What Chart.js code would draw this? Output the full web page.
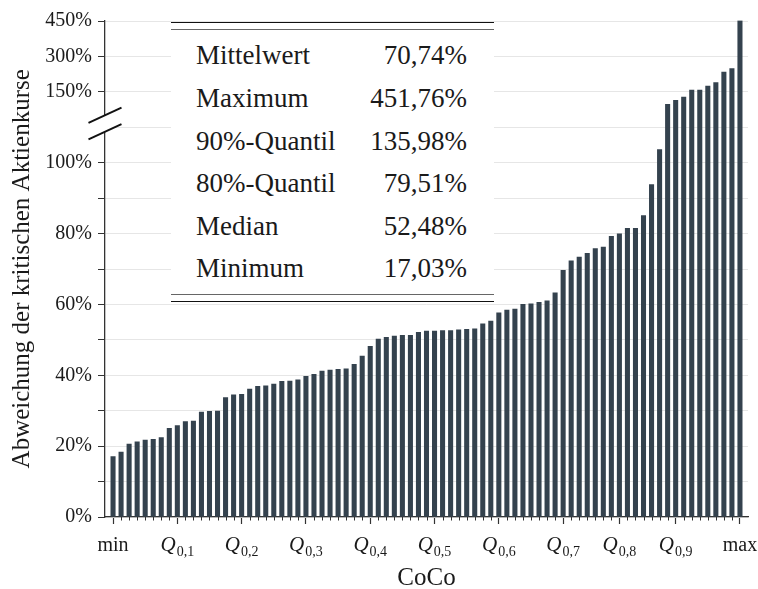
<!DOCTYPE html>
<html lang="de">
<head>
<meta charset="utf-8">
<title>Abweichung der kritischen Aktienkurse</title>
<script src="https://cdn.jsdelivr.net/npm/chart.js@4/dist/chart.umd.min.js"></script>
<style>
  html, body { margin: 0; padding: 0; background: #fff; }
  #wrap { position: relative; width: 758px; height: 589px; }
  #chart { position: absolute; left: 0; top: 0; }
  #stats {
    position: absolute; left: 171px; top: 21.5px; width: 323px; height: 282px;
    background: #fff; font-family: "Liberation Serif", serif; font-size: 27px; color: #1a1a1a;
  }
  #stats .rule { position: absolute; left: 0; right: 0; }
  #stats .row { position: absolute; left: 25px; right: 27px; height: 42.6px; line-height: 42.6px; white-space: nowrap; }
  #stats .row .v { position: absolute; right: 0; top: 0; }
</style>
</head>
<body>
<div id="wrap">
  <canvas id="chart" width="758" height="589"></canvas>
  <div id="stats"></div>
</div>
<script>
// Abweichung der kritischen Aktienkurse je CoCo, aufsteigend sortiert (in %)
const deviation = [
  17.03, 18.3, 20.6, 21.2, 21.7, 21.9, 22.4, 25.0, 25.8, 26.9,
  27.1, 29.6, 29.8, 29.9, 33.7, 34.5, 34.6, 36.1, 36.9, 37.0,
  37.5, 38.3, 38.4, 38.7, 39.7, 40.3, 41.2, 41.5, 41.7, 41.8,
  43.1, 45.4, 48.2, 50.2, 50.7, 51.1, 51.3, 51.3, 52.1, 52.48,
  52.5, 52.6, 52.6, 52.8, 53.0, 53.1, 54.5, 55.3, 57.6, 58.4,
  58.7, 60.0, 60.2, 60.6, 61.0, 63.3, 69.6, 72.3, 73.4, 74.4,
  75.8, 76.2, 79.2, 79.9, 81.5, 81.5, 85.1, 93.8, 103.7, 135.98,
  140.4, 144.0, 157.5, 157.5, 174.0, 189.0, 234.0, 249.0, 451.76
];

// Lage der Quantile auf der CoCo-Achse (Index in der sortierten Reihe)
const xTickPositions = [0, 8, 16, 24, 32, 40, 48, 56, 63, 70, 78];
const xTickLabels = ['min', 'Q0,1', 'Q0,2', 'Q0,3', 'Q0,4', 'Q0,5', 'Q0,6', 'Q0,7', 'Q0,8', 'Q0,9', 'max'];

// Gitterlinien und beschriftete Werte der Prozentachse
const yGridValues = [0, 10, 20, 30, 40, 50, 60, 70, 80, 90, 100, 110, 150, 300, 450];
const yLabelValues = [0, 20, 40, 60, 80, 100, 150, 300, 450];
const yBreakValue = 110;

// Kennzahlen
const statNames = ['Mittelwert', 'Maximum', '90%-Quantil', '80%-Quantil', 'Median', 'Minimum'];
const statValues = ['70,74%', '451,76%', '135,98%', '79,51%', '52,48%', '17,03%'];

// Unterbrochene Achse: bis 110 % linear, 110–150 % gestaucht, darüber 150 % je Gitterabstand
function toAxis(v) {
  if (v <= 110) return v / 10;
  if (v <= 150) return 11 + (v - 110) / 40;
  return 12 + (v - 150) / 150;
}

const serif = '"Liberation Serif", serif';
const ink = '#1a1a1a';
const axisColor = '#333';

// Kennzahlentabelle
(function buildTable() {
  const box = document.getElementById('stats');
  const rules = [[0, 1.4, '#111'], [7, 1, '#666'], [272.5, 1, '#666'], [279.5, 1.4, '#111']];
  rules.forEach(([top, h, c]) => {
    const r = document.createElement('div');
    r.className = 'rule';
    r.style.top = top + 'px'; r.style.height = h + 'px'; r.style.background = c;
    box.appendChild(r);
  });
  statNames.forEach((name, i) => {
    const row = document.createElement('div');
    row.className = 'row';
    row.style.top = (12.9 + 42.6 * i) + 'px';
    const n = document.createElement('span'); n.textContent = name;
    const v = document.createElement('span'); v.className = 'v'; v.textContent = statValues[i];
    row.appendChild(n); row.appendChild(v);
    box.appendChild(row);
  });
})();

// Nebenmarken, Quantil-Beschriftungen und Achsenbruch
const decorations = {
  id: 'decorations',
  afterDraw(chart) {
    const ctx = chart.ctx;
    const xs = chart.scales.x, ys = chart.scales.y;
    const base = ys.getPixelForValue(0);
    ctx.save();

    // kleine Striche an jedem CoCo
    ctx.strokeStyle = axisColor;
    ctx.lineWidth = 1;
    for (let i = 0; i < deviation.length; i++) {
      if (xTickPositions.includes(i)) continue;
      const px = Math.round(xs.getPixelForValue(i)) + 0.5;
      ctx.beginPath();
      ctx.moveTo(px, base);
      ctx.lineTo(px, base + 3.5);
      ctx.stroke();
    }

    // Beschriftung der Quantile
    ctx.fillStyle = ink;
    ctx.textBaseline = 'alphabetic';
    const yLab = base + 34;
    xTickPositions.forEach((pos, k) => {
      const px = xs.getPixelForValue(pos);
      const label = xTickLabels[k];
      if (label.startsWith('Q')) {
        const sub = label.slice(1);
        ctx.font = 'italic 21px ' + serif;
        const wq = ctx.measureText('Q').width;
        ctx.font = '14px ' + serif;
        const ws = ctx.measureText(sub).width;
        const x0 = px - (wq + ws + 1) / 2;
        ctx.font = 'italic 21px ' + serif;
        ctx.textAlign = 'left';
        ctx.fillText('Q', x0, yLab);
        ctx.font = '14px ' + serif;
        ctx.fillText(sub, x0 + wq + 1, yLab + 4.5);
      } else {
        ctx.font = '20px ' + serif;
        ctx.textAlign = 'center';
        ctx.fillText(label, px, yLab);
      }
    });

    // Achsenbruch
    const ax = chart.chartArea.left;
    const yb = ys.getPixelForValue(toAxis(yBreakValue));
    const c1 = yb - 12, c2 = yb + 4.5, dx = 16.5, dy = 7.6;
    ctx.fillStyle = '#fff';
    ctx.beginPath();
    ctx.moveTo(ax - dx, c1 + dy);
    ctx.lineTo(ax + dx, c1 - dy);
    ctx.lineTo(ax + dx, c2 - dy);
    ctx.lineTo(ax - dx, c2 + dy);
    ctx.closePath();
    ctx.fill();
    ctx.strokeStyle = '#111';
    ctx.lineWidth = 2;
    [c1, c2].forEach(c => {
      ctx.beginPath();
      ctx.moveTo(ax - dx, c + dy);
      ctx.lineTo(ax + dx, c - dy);
      ctx.stroke();
    });
    ctx.restore();
  }
};

new Chart(document.getElementById('chart'), {
  type: 'bar',
  data: {
    datasets: [{
      data: deviation.map((v, i) => ({ x: i, y: toAxis(v) })),
      backgroundColor: '#34424e',
      borderWidth: 0,
      barThickness: 4.4
    }]
  },
  options: {
    responsive: false,
    animation: false,
    devicePixelRatio: 1,
    layout: { padding: { left: 0, right: 10, top: 20.6, bottom: 0 } },
    plugins: { legend: { display: false }, tooltip: { enabled: false } },
    scales: {
      x: {
        type: 'linear',
        min: -1,
        max: deviation.length,
        offset: false,
        afterBuildTicks: s => { s.ticks = xTickPositions.map(v => ({ value: v })); },
        afterFit: s => { s.height = 72; },
        ticks: { display: false },
        grid: { drawOnChartArea: false, drawTicks: true, tickLength: 7, tickColor: axisColor, tickWidth: 1.2, offset: false },
        border: { color: axisColor, width: 1.3 },
        title: { display: true, text: 'CoCo', font: { family: serif, size: 25 }, color: ink, padding: { top: 0, bottom: -4 } }
      },
      y: {
        type: 'linear',
        min: 0,
        max: toAxis(Math.max(...deviation)),
        afterBuildTicks: s => { s.ticks = yGridValues.map(v => ({ value: toAxis(v) })); },
        afterFit: s => { s.width = 105; },
        ticks: {
          autoSkip: false,
          padding: 6,
          color: ink,
          font: { family: serif, size: 20 },
          callback: (val, idx) => {
            const v = yGridValues[idx];
            return yLabelValues.includes(v) ? v + '%' : '';
          }
        },
        grid: { color: '#e6e6e6', lineWidth: 1, drawTicks: true, tickLength: 7, tickColor: axisColor },
        border: { color: axisColor, width: 1.3 },
        title: { display: true, text: 'Abweichung der kritischen Aktienkurse', font: { family: serif, size: 25 }, color: ink, padding: { top: 7, bottom: 0 } }
      }
    }
  },
  plugins: [decorations]
});
</script>
</body>
</html>
